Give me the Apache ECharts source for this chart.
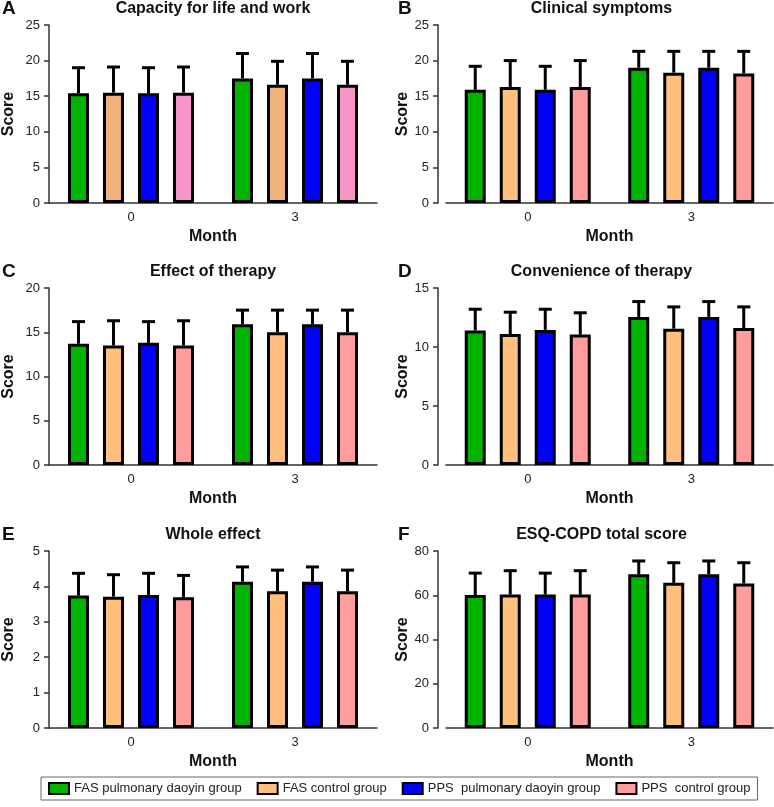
<!DOCTYPE html>
<html>
<head>
<meta charset="utf-8">
<title>ESQ-COPD scores</title>
<script src="https://cdn.jsdelivr.net/npm/echarts@6/dist/echarts.min.js"></script>
<style>
  html, body { margin: 0; padding: 0; background: #fff; }
  #chart { width: 774px; height: 807px; }
</style>
</head>
<body>
<div id="chart"></div>
<script>
// categories
const months = ['0', '3'];
const groups = ['FAS pulmonary daoyin group', 'FAS control group', 'PPS  pulmonary daoyin group', 'PPS  control group'];
const panelLetters = ['A', 'B', 'C', 'D', 'E', 'F'];
const panelTitles = ['Capacity for life and work', 'Clinical symptoms', 'Effect of therapy',
    'Convenience of therapy', 'Whole effect', 'ESQ-COPD total score'];
const yMax = [25, 25, 20, 15, 5, 80];
const yStep = [5, 5, 5, 5, 1, 20];

// mean per group: [month 0, month 3]
const capacityMean = [[15.4, 17.5], [15.5, 16.6], [15.4, 17.5], [15.5, 16.6]];
const capacitySd = [[3.6, 3.5], [3.6, 3.3], [3.6, 3.5], [3.6, 3.3]];
const symptomsMean = [[15.9, 19.0], [16.3, 18.3], [15.9, 19.0], [16.3, 18.2]];
const symptomsSd = [[3.3, 2.3], [3.7, 3.0], [3.3, 2.3], [3.7, 3.1]];
const effectMean = [[13.7, 15.9], [13.5, 15.0], [13.8, 15.9], [13.5, 15.0]];
const effectSd = [[2.5, 1.6], [2.8, 2.5], [2.4, 1.6], [2.8, 2.5]];
const convenienceMean = [[11.4, 12.55], [11.1, 11.55], [11.45, 12.55], [11.05, 11.6]];
const convenienceSd = [[1.8, 1.3], [1.85, 1.85], [1.75, 1.3], [1.85, 1.8]];
const wholeMean = [[3.74, 4.13], [3.71, 3.86], [3.76, 4.13], [3.69, 3.86]];
const wholeSd = [[0.63, 0.42], [0.62, 0.6], [0.61, 0.42], [0.62, 0.6]];
const totalMean = [[60.1, 69.5], [60.3, 65.6], [60.3, 69.5], [60.3, 65.3]];
const totalSd = [[9.9, 6.0], [10.8, 9.1], [9.7, 6.0], [10.8, 9.4]];

(function () {
    const myChart = echarts.init(document.getElementById('chart'));

    const means = [capacityMean, symptomsMean, effectMean, convenienceMean, wholeMean, totalMean];
    const sds = [capacitySd, symptomsSd, effectSd, convenienceSd, wholeSd, totalSd];

    const colorsA = ['#00b300', '#f0b27c', '#0000ff', '#f794c8'];
    const colors = ['#00b300', '#ffc07e', '#0000ff', '#ff9c9c'];

    const BAR_W = 21;
    const BAR_STEP = 35;
    const FONT = '"Liberation Sans", Arial, sans-serif';

    // panel boxes
    const grids = [
        { left: 49, top: 25, width: 328, height: 178 },
        { left: 446, top: 25, width: 327, height: 178 },
        { left: 49, top: 288, width: 328, height: 177 },
        { left: 446, top: 288, width: 327, height: 177 },
        { left: 49, top: 551, width: 328, height: 177 },
        { left: 446, top: 551, width: 327, height: 177 }
    ];

    const titles = [];
    const xAxes = [];
    const yAxes = [];
    const series = [];

    grids.forEach(function (g, p) {
        const right = p % 2 === 1;
        titles.push({
            text: panelTitles[p],
            left: g.left + g.width / 2 - (right ? 8 : 0),
            top: g.top - 24,
            textAlign: 'center',
            padding: 0,
            textStyle: { fontFamily: FONT, fontSize: 16, fontWeight: 'bold', color: '#111' }
        });
        titles.push({
            text: panelLetters[p],
            left: right ? 398 : 2,
            top: g.top - 26,
            padding: 0,
            textStyle: { fontFamily: FONT, fontSize: 19, fontWeight: 'bold', color: '#111' }
        });

        xAxes.push({
            type: 'category',
            gridIndex: p,
            data: months,
            name: 'Month',
            nameLocation: 'middle',
            nameGap: 26,
            nameTextStyle: { fontFamily: FONT, fontSize: 16, fontWeight: 'bold', color: '#111' },
            axisLine: { lineStyle: { color: '#333', width: 1.5 } },
            axisTick: { alignWithLabel: true, length: 5, lineStyle: { color: '#333', width: 1.5 } },
            axisLabel: { margin: 8, fontFamily: FONT, fontSize: 13, color: '#222' }
        });

        yAxes.push({
            type: 'value',
            gridIndex: p,
            min: 0,
            max: yMax[p],
            interval: yStep[p],
            offset: right ? 8 : 0,
            name: 'Score',
            nameLocation: 'middle',
            nameGap: right ? 22 : 32,
            nameTextStyle: { fontFamily: FONT, fontSize: 16, fontWeight: 'bold', color: '#111' },
            axisLine: { show: true, lineStyle: { color: '#333', width: 1.5 } },
            axisTick: { show: true, length: 5, lineStyle: { color: '#333', width: 1.5 } },
            axisLabel: { margin: 9, fontFamily: FONT, fontSize: 13, color: '#222' },
            splitLine: { show: false }
        });

        const palette = p === 0 ? colorsA : colors;
        groups.forEach(function (name, k) {
            series.push({
                name: name,
                type: 'bar',
                xAxisIndex: p,
                yAxisIndex: p,
                data: means[p][k],
                barWidth: BAR_W,
                barGap: '66.7%',
                itemStyle: { color: palette[k], borderColor: '#000', borderWidth: 3 }
            });
        });

        // error bars (upper only)
        const errData = [];
        groups.forEach(function (name, k) {
            months.forEach(function (m, c) {
                errData.push([c, k, means[p][k][c], means[p][k][c] + sds[p][k][c]]);
            });
        });
        series.push({
            type: 'custom',
            name: 'err' + p,
            xAxisIndex: p,
            yAxisIndex: p,
            data: errData,
            encode: { x: 0, y: [2, 3] },
            z: 3,
            renderItem: function (params, api) {
                const base = api.coord([api.value(0), api.value(2)]);
                const hi = api.coord([api.value(0), api.value(3)]);
                const x = base[0] + (api.value(1) - 1.5) * BAR_STEP;
                const st = { stroke: '#000', lineWidth: 3 };
                return {
                    type: 'group',
                    children: [
                        { type: 'line', shape: { x1: x, y1: base[1], x2: x, y2: hi[1] }, style: st },
                        { type: 'line', shape: { x1: x - 6.5, y1: hi[1], x2: x + 6.5, y2: hi[1] }, style: st }
                    ]
                };
            }
        });
    });

    const option = {
        animation: false,
        backgroundColor: '#fff',
        title: titles,
        grid: grids,
        xAxis: xAxes,
        yAxis: yAxes,
        legend: {
            left: 41,
            top: 777,
            padding: [5, 7],
            itemGap: 15,
            itemWidth: 20,
            itemHeight: 11,
            icon: 'rect',
            borderColor: '#666',
            borderWidth: 1,
            textStyle: { fontFamily: FONT, fontSize: 13, color: '#222' },
            data: groups.map(function (name, k) {
                return { name: name, itemStyle: { color: colors[k], borderColor: '#000', borderWidth: 2 } };
            })
        },
        series: series
    };

    myChart.setOption(option);
    window.addEventListener('resize', function () {
        myChart.resize();
    });
})();
</script>
</body>
</html>
